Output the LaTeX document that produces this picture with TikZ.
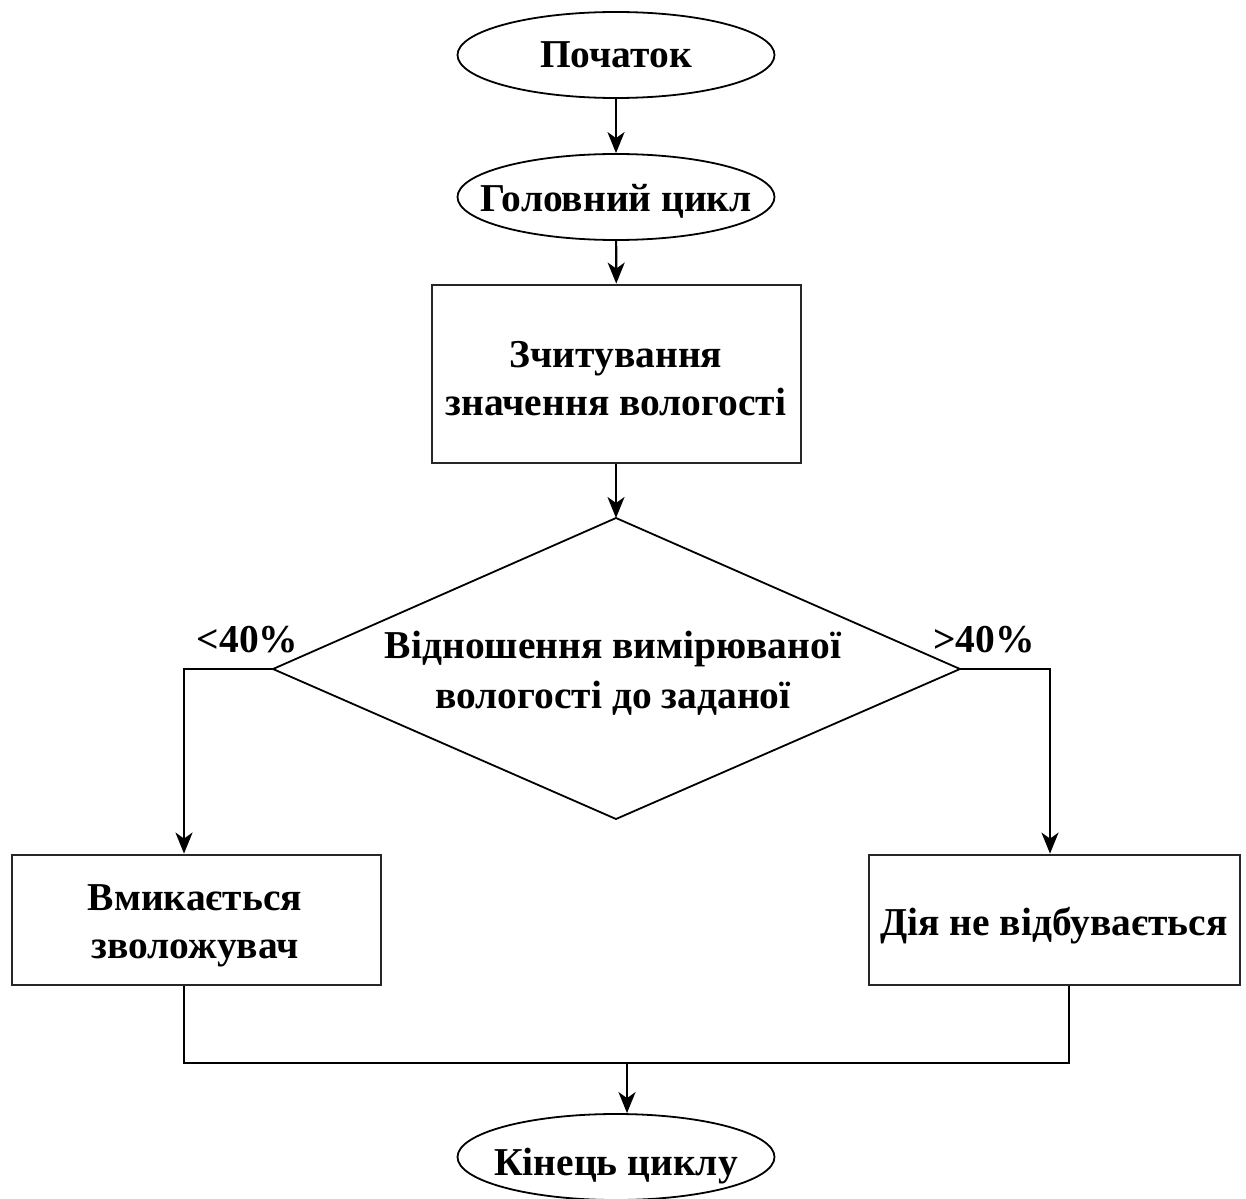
\documentclass[tikz,border=0pt]{standalone}
\usepackage{fontspec}
\setmainfont{Liberation Serif}
\usetikzlibrary{shapes.geometric,arrows.meta}
\begin{document}
\begin{tikzpicture}[x=1pt,y=-1pt,
  every node/.style={font=\fontsize{39.5}{48}\selectfont\bfseries},
  term/.style={draw, line width=1.8pt, ellipse, minimum width=317pt, minimum height=86pt, inner sep=0pt},
  proc/.style={draw=black!85, line width=2.8pt, rectangle, inner sep=0pt},
  txt/.style={align=center, inner sep=0pt, anchor=base},
  conn/.style={line width=2.2pt, -{Stealth[length=21pt,width=17pt,inset=6pt]}},
  plain/.style={line width=2.2pt},
  dia/.style={line width=1.8pt, line join=miter}
]
\useasboundingbox (0,0) rectangle (1246,1198);

% terminals
\node[term] (start) at (616,55) {};
\node[txt] (startT) at (616,68) {Початок};
\node[term] (loop) at (616,197) {};
\node[txt] (loopT) at (616,212) {Головний цикл};

% read box
\node[proc, minimum width=369pt, minimum height=178pt] (read) at (616.5,374) {};
\node[txt] (readT) at (616,415) {Зчитування\\значення вологості};

% decision diamond
\coordinate (dT) at (616,518);
\coordinate (dR) at (960,669);
\coordinate (dB) at (616,819);
\coordinate (dL) at (273,669);
\draw[dia] (dT) -- (dR) -- (dB) -- (dL) -- cycle;
\node[txt, font=\fontsize{39.5}{50}\selectfont\bfseries] (decT) at (613,708) {Відношення вимірюваної\\вологості до заданої};

% branch boxes
\node[proc, minimum width=369pt, minimum height=130pt] (on) at (196.5,920) {};
\node[txt] (onT) at (195,958) {Вмикається\\зволожувач};
\node[proc, minimum width=371pt, minimum height=130pt] (off) at (1054.5,920) {};
\node[txt] (offT) at (1054,935) {Дія не відбувається};

% end terminal
\node[term] (end) at (616,1157) {};
\node[txt] (endT) at (616,1175) {Кінець циклу};

% labels
\node[txt] (lessT) at (247.5,652) {<40\%};
\node[txt] (moreT) at (984,652) {>40\%};

% connectors
\draw[conn] (start) -- (loop);
\draw[conn] (loop) -- (read);
\draw[conn] (read.south -| dT) -- (dT);

\coordinate (lc) at (184,669);
\coordinate (rc) at (1050,669);
\draw[conn] (dL) -- (lc) -- (lc |- on.north);
\draw[conn] (dR) -- (rc) -- (rc |- off.north);

\coordinate (jl) at (184,1063);
\coordinate (jr) at (1069,1063);
\coordinate (jm) at (627,1063);
\draw[plain] (jl |- on.south) -- (jl) -- (jr) -- (jr |- off.south);
\draw[conn] (jm) -- (jm |- end.north);
\end{tikzpicture}
\end{document}
